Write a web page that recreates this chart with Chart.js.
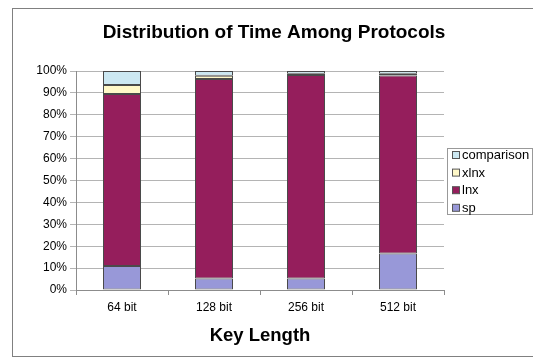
<!DOCTYPE html>
<html><head><meta charset="utf-8">
<script src="https://cdn.jsdelivr.net/npm/chart.js@4/dist/chart.umd.min.js"></script>
<style>html,body{margin:0;padding:0;background:#fff}#wrap{width:533px;height:358px}</style>
</head><body><div id="wrap"><canvas id="c" width="533" height="358"></canvas></div>
<script>
const categories = ['64 bit', '128 bit', '256 bit', '512 bit'];
const sp = [11, 5.3, 5.3, 16.7];
const lnx = [78.5, 91, 92.9, 81.3];
const xlnx = [4.1, 1.5, 0.5, 0.7];
const comparison = [6.4, 2.2, 1.3, 1.3];
const seriesNames = ['sp', 'lnx', 'xlnx', 'comparison'];
const seriesColors = ['#9898D8', '#951E5C', '#FFF8C8', '#CCE8F2'];
const yTicks = [0,10,20,30,40,50,60,70,80,90,100];
const chartTitle = 'Distribution of Time Among Protocols';

const FONT = '"Liberation Sans", Arial, sans-serif';
Chart.defaults.font.family = FONT;
Chart.defaults.color = '#000';

const frameAndLegend = {
  id: 'frameAndLegend',
  beforeDraw(chart) {
    const ctx = chart.ctx;
    ctx.save();
    ctx.fillStyle = '#fff';
    ctx.fillRect(0, 0, chart.width, chart.height);
    ctx.strokeStyle = '#808080';
    ctx.lineWidth = 1;
    ctx.strokeRect(12.5, 8.5, 530, 348);
    ctx.restore();
  },
  afterDraw(chart) {
    const ctx = chart.ctx;
    ctx.save();
    ctx.fillStyle = '#000';
    ctx.font = 'bold 19px ' + FONT;
    ctx.textAlign = 'center';
    ctx.textBaseline = 'middle';
    ctx.fillText(chartTitle, 274, 33);
    ctx.textAlign = 'left';
    ctx.strokeStyle = '#999';
    ctx.lineWidth = 1;
    ctx.strokeRect(447.5, 148.5, 85, 66);
    ctx.font = '13px ' + FONT;
    const ds = chart.data.datasets.slice().reverse();
    ds.forEach((d, i) => {
      const y = 155 + i * 17.6;
      ctx.fillStyle = d.backgroundColor;
      ctx.fillRect(452, y - 3.5, 7, 7);
      ctx.strokeStyle = '#555';
      ctx.strokeRect(452.5, y - 3.5, 7, 7);
      ctx.fillStyle = '#000';
      ctx.fillText(d.label, 462, y + 0.5);
    });
    ctx.restore();
  }
};

const dataArrays = [sp, lnx, xlnx, comparison];
new Chart(document.getElementById('c'), {
  type: 'bar',
  data: {
    labels: categories,
    datasets: dataArrays.map((arr, i) => ({
      label: seriesNames[i],
      data: arr,
      backgroundColor: seriesColors[i],
      borderColor: '#4a4a4a',
      borderWidth: 1,
      borderSkipped: false,
      categoryPercentage: 1,
      barPercentage: 0.413
    }))
  },
  options: {
    responsive: false,
    animation: false,
    layout: { padding: { left: 12, right: 89, top: 71, bottom: 8 } },
    plugins: {
      legend: { display: false },
      tooltip: { enabled: false },
      title: { display: false }
    },
    scales: {
      x: {
        stacked: true,
        grid: { offset: true, drawOnChartArea: false, tickLength: 5, color: '#8c8c8c' },
        border: { color: '#8c8c8c' },
        ticks: { font: { size: 12 }, padding: 5, color: '#000' },
        title: { display: true, text: 'Key Length', font: { size: 18.5, weight: 'bold' }, color: '#000', padding: { top: 4, bottom: 3 } },
        afterFit(s) { s.height = 60; }
      },
      y: {
        stacked: true,
        min: 0, max: 100,
        afterBuildTicks(s) { s.ticks = yTicks.map(v => ({ value: v })); },
        ticks: { font: { size: 12 }, padding: 3, color: '#000', callback: v => v + '%' },
        grid: { color: '#b4b4b4', tickLength: 6 },
        border: { color: '#8c8c8c' },
        afterFit(s) { s.width = 64; }
      }
    }
  },
  plugins: [frameAndLegend]
});
</script></body></html>
